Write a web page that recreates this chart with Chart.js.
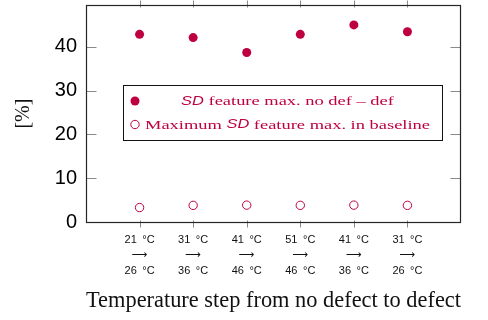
<!DOCTYPE html>
<html><head><meta charset="utf-8">
<script src="https://cdn.jsdelivr.net/npm/chart.js@4/dist/chart.umd.min.js"></script>
<style>html,body{margin:0;padding:0;background:#fff;}#wrap{width:488px;height:320px;position:relative;}</style>
</head><body><div id="wrap"><canvas id="c"></canvas></div>
<script>
// ---- data ----
const stepFrom = ['21\u2002°C','31\u2002°C','41\u2002°C','51\u2002°C','41\u2002°C','31\u2002°C'];
const stepTo   = ['26\u2002°C','36\u2002°C','46\u2002°C','46\u2002°C','36\u2002°C','26\u2002°C'];
const stepPos  = [1,2,3,4,5,6];
const diffValues     = [42.85, 42.1, 38.7, 42.85, 45.0, 43.45];
const baselineValues = [3.3, 3.8, 3.85, 3.8, 3.85, 3.8];
const yTicks = [0,10,20,30,40];
const legendDiff = [{t:'SD',i:true},{t:' feature max. no def – def'}];
const legendBase = [{t:'Maximum '},{t:'SD',i:true},{t:' feature max. in baseline'}];
const xTitle = 'Temperature step from no defect to defect';
const yTitle = '[%]';

const PURPLE = '#BF0040';
const SERIF = '"Liberation Serif", "Times New Roman", serif';
const SANS = '"Liberation Sans", "DejaVu Sans", Arial, sans-serif';

function segFont(s){ return s.i ? 'italic 12px ' + SANS : '13.5px ' + SERIF; }
function rowWidth(ctx, segs){ let w=0; for(const s of segs){ ctx.font=segFont(s); w+=ctx.measureText(s.t).width; } return w; }
function drawRow(ctx, segs, x, y, sx){
  ctx.save(); ctx.translate(x,y); ctx.scale(sx,1);
  let cx=0; ctx.textBaseline='middle'; ctx.textAlign='left'; ctx.fillStyle=PURPLE;
  for(const s of segs){ ctx.font=segFont(s); ctx.fillText(s.t,cx,0); cx+=ctx.measureText(s.t).width; }
  ctx.restore();
}

const decorPlugin = {
  id:'decor',
  afterDatasetsDraw(chart){
    const ctx = chart.ctx, a = chart.chartArea;
    const xs = chart.scales.x, ys = chart.scales.y;
    const L = Math.round(a.left)+0.5, R = Math.round(a.right)-0.5, T = Math.round(a.top)+0.5, B = Math.round(a.bottom)+0.5;
    ctx.save();
    // tick marks
    ctx.strokeStyle = '#8a8a8a'; ctx.lineWidth = 1;
    ctx.beginPath();
    for(const v of yTicks){
      const y = Math.round(ys.getPixelForValue(v))+0.5;
      ctx.moveTo(L, y); ctx.lineTo(L+10, y);
      ctx.moveTo(R, y); ctx.lineTo(R-10, y);
    }
    for(const p of stepPos){
      const x = Math.round(xs.getPixelForValue(p))+0.5;
      ctx.moveTo(x, B-2); ctx.lineTo(x, B+5);
      ctx.moveTo(x, T+2); ctx.lineTo(x, T-5);
    }
    ctx.stroke();
    // frame
    ctx.strokeStyle = '#262626'; ctx.lineWidth = 1.2;
    ctx.strokeRect(L, T, R-L, B-T);
    // legend box
    const bx=123.5, by=85.5, bw=319, bh=55;
    ctx.fillStyle='#fff'; ctx.fillRect(bx,by,bw,bh);
    ctx.strokeStyle='#111'; ctx.lineWidth=1; ctx.strokeRect(bx,by,bw,bh);
    // markers
    ctx.fillStyle=PURPLE; ctx.beginPath(); ctx.arc(135,101,4.5,0,Math.PI*2); ctx.fill();
    ctx.strokeStyle=PURPLE; ctx.lineWidth=1; ctx.beginPath(); ctx.arc(135,124.5,4.2,0,Math.PI*2); ctx.stroke();
    // texts
    const w2 = rowWidth(ctx, legendBase), w1 = rowWidth(ctx, legendDiff);
    const sx = 285 / w2;
    drawRow(ctx, legendBase, 145, 125, sx);
    drawRow(ctx, legendDiff, 287.5 - w1*sx/2, 101.5, sx);
    ctx.restore();
  }
};

new Chart(document.getElementById('c'), {
  type:'scatter',
  data:{
    datasets:[
      { label:'SD feature max. no def – def',
        data: stepPos.map((p,i)=>({x:p, y:diffValues[i]})),
        pointRadius:4.5, pointBackgroundColor:PURPLE, pointBorderColor:PURPLE, pointBorderWidth:0 },
      { label:'Maximum SD feature max. in baseline',
        data: stepPos.map((p,i)=>({x:p, y:baselineValues[i]})),
        pointRadius:4.2, pointBackgroundColor:'#fff', pointBorderColor:PURPLE, pointBorderWidth:1 }
    ]
  },
  options:{
    responsive:true, maintainAspectRatio:false, animation:false,
    layout:{padding:{left:0, right:27, top:4, bottom:0}},
    plugins:{legend:{display:false}, tooltip:{enabled:false}},
    scales:{
      x:{
        type:'linear', min:0, max:7,
        afterBuildTicks(s){ s.ticks = stepPos.map(v=>({value:v})); },
        afterFit(s){ s.height = 98; s.paddingLeft=0; s.paddingRight=0; },
        grid:{display:false, drawTicks:false}, border:{display:false},
        ticks:{
          padding:10, maxRotation:0, autoSkip:false, color:'#111',
          font:{family:SANS, size:11, lineHeight:1.41},
          callback(v){ const i = stepPos.indexOf(v); return i<0 ? '' : [stepFrom[i], '⟶', stepTo[i]]; }
        },
        title:{display:true, text:xTitle, color:'#111', font:{family:SERIF, size:23.5, lineHeight:1.2}, padding:{top:0,bottom:5}}
      },
      y:{
        type:'linear', min:0, max:49.5,
        afterBuildTicks(s){ s.ticks = yTicks.map(v=>({value:v})); },
        afterFit(s){ s.width = 86; s.paddingTop=0; s.paddingBottom=0; },
        grid:{display:false, drawTicks:false}, border:{display:false},
        ticks:{padding:9, color:'#000', font:{family:SANS, size:20}},
        title:{display:true, text:yTitle, color:'#111', font:{family:SERIF, size:20, lineHeight:1.2}, padding:{top:12,bottom:0}}
      }
    }
  },
  plugins:[decorPlugin]
});
</script></body></html>
